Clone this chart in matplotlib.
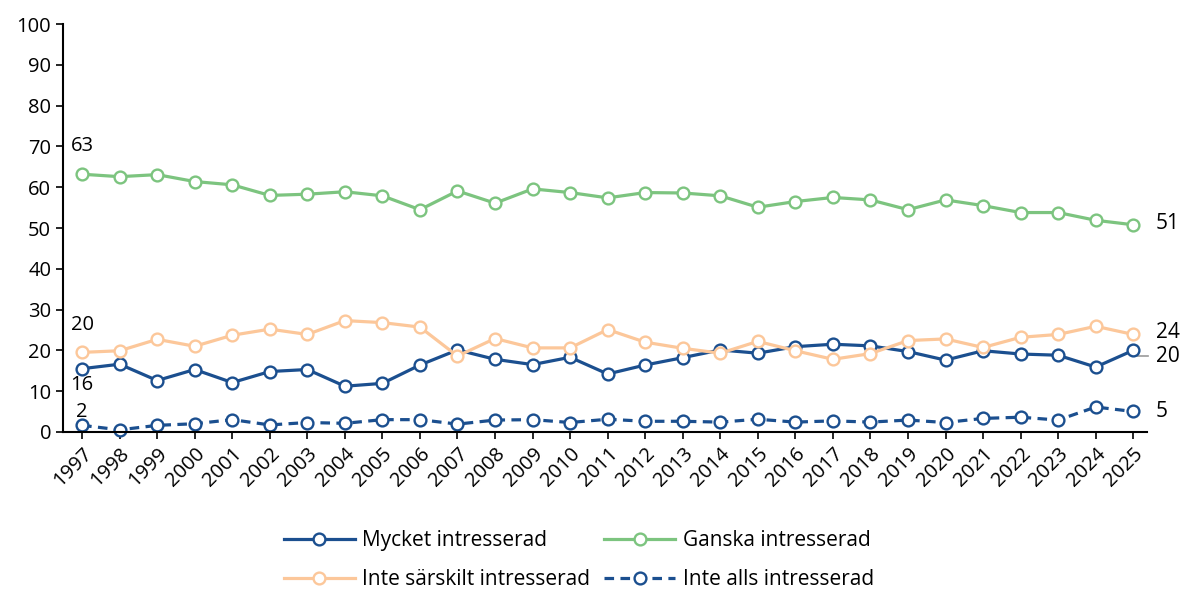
import matplotlib.pyplot as plt
import numpy as np

# data
years = list(range(1997, 2026))
mycket = [15.5, 16.6, 12.6, 15.3, 12.1, 14.8, 15.3, 11.2, 11.9, 16.4,
          20.1, 17.8, 16.5, 18.3, 14.2, 16.4, 18.2, 20.1, 19.3, 20.9,
          21.5, 21.1, 19.7, 17.6, 19.9, 19.1, 18.8, 15.9, 20.0]
ganska = [63.2, 62.6, 63.1, 61.4, 60.6, 58.0, 58.3, 58.9, 57.9, 54.5,
          59.1, 56.1, 59.6, 58.7, 57.4, 58.7, 58.6, 57.9, 55.1, 56.5,
          57.5, 56.9, 54.5, 56.9, 55.5, 53.8, 53.8, 51.9, 50.8]
inte_sarskilt = [19.5, 19.9, 22.7, 21.0, 23.7, 25.2, 23.9, 27.3, 26.8, 25.7,
                 18.6, 22.9, 20.6, 20.6, 25.1, 22.0, 20.5, 19.3, 22.2, 19.9,
                 17.8, 19.2, 22.4, 22.8, 20.7, 23.2, 23.9, 25.9, 23.9]
inte_alls = [1.6, 0.5, 1.6, 2.0, 3.0, 1.7, 2.3, 2.1, 3.0, 3.0,
             1.9, 2.9, 3.0, 2.3, 3.1, 2.6, 2.6, 2.4, 3.1, 2.4,
             2.7, 2.4, 2.9, 2.3, 3.3, 3.6, 2.9, 6.1, 5.0]
labels = ["Mycket intresserad", "Ganska intresserad",
          "Inte särskilt intresserad", "Inte alls intresserad"]
start_labels = ["16", "63", "20", "2"]
end_labels = ["20", "51", "24", "5"]

blue = "#1B4F8F"
green = "#7CC47F"
peach = "#FCC79A"

plt.rcParams['font.family'] = ['Open Sans', 'DejaVu Sans']

fig = plt.figure(figsize=(11.81, 5.90), dpi=100)
ax = fig.add_axes([0.0533, 0.268, 0.918, 0.691])

series = [mycket, ganska, inte_sarskilt, inte_alls]
colors = [blue, green, peach, blue]
styles = ['-', '-', '-', '--']
lines = []
for vals, col, ls, lab in zip(series, colors, styles, labels):
    ln, = ax.plot(years, vals, color=col, linestyle=ls, lw=2.3,
                  marker='o', markersize=8.5, markerfacecolor='white',
                  markeredgecolor=col, markeredgewidth=1.7, label=lab,
                  clip_on=False)
    if ls == '--':
        ln.set_dashes((3, 2))
    lines.append(ln)

# labels at start of series
start_y = [11.4, 70.0, 26.2, 4.9]
for txt, yy in zip(start_labels, start_y):
    ax.text(years[0], yy, txt, ha='center', va='center', fontsize=14.5)

# labels at end of series
end_y = [18.6, 51.0, 24.3, 5.0]
for txt, yy in zip(end_labels, end_y):
    ax.text(years[-1] + 0.6, yy, txt, ha='left', va='center', fontsize=15,
            clip_on=False)
ax.plot([years[-1], years[-1] + 0.4], [18.6, 18.6], color='#999999', lw=1.2,
        clip_on=False, zorder=1)

ax.set_xlim(1996.49, 2025.37)
ax.set_ylim(0, 100)
ax.set_yticks(np.arange(0, 101, 10))
ax.set_xticks(years)
ax.set_xticklabels([str(y) for y in years], rotation=45, ha='right',
                   rotation_mode='anchor')
ax.tick_params(axis='both', labelsize=14.5, length=5, width=1.2, direction='out')
ax.spines['top'].set_visible(False)
ax.spines['right'].set_visible(False)
ax.spines['left'].set_linewidth(1.5)
ax.spines['bottom'].set_linewidth(1.5)

# legend filled row by row: Mycket, Ganska / Inte särskilt, Inte alls
order = [0, 2, 1, 3]
fig.legend(handles=[lines[i] for i in order], loc='lower center',
           bbox_to_anchor=(0.49, -0.032), ncol=2, frameon=False, fontsize=15,
           handlelength=3.4, columnspacing=0.7, handletextpad=0.35,
           labelspacing=0.85)

fig.savefig("out.png", dpi=100)
